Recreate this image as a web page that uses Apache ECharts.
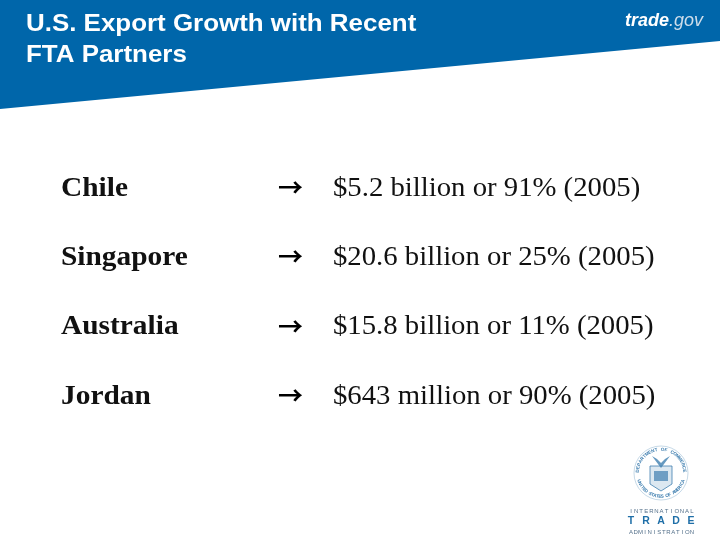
<!DOCTYPE html>
<html><head><meta charset="utf-8">
<style>html,body{margin:0;padding:0;background:#fff}#c{width:720px;height:540px}</style>
<script src="https://cdn.jsdelivr.net/npm/echarts@6/dist/echarts.min.js"></script>
</head><body><div id="c"></div>
<script>
const titleLines = ["U.S. Export Growth with Recent", "FTA Partners"];
const partners = ["Chile", "Singapore", "Australia", "Jordan"];
const growth = ["$5.2 billion or 91% (2005)", "$20.6 billion or 25% (2005)", "$15.8 billion or 11% (2005)", "$643 million or 90% (2005)"];
const sealTop = "DEPARTMENT OF COMMERCE";
const sealBottom = "UNITED STATES OF AMERICA";
const agency = ["INTERNATIONAL", "TRADE", "ADMINISTRATION"];

const BLUE = "#0066AA", LOGO = "#3F7FB0";
const g = [];
g.push({type:"polygon",shape:{points:[[0,0],[720,0],[720,41],[0,109]]},style:{fill:BLUE}});
titleLines.forEach((t,i)=>g.push({type:"text",x:26,y:24.5+i*31,scaleX:1.08,style:{text:t,fill:"#fff",font:"bold 24px 'Liberation Sans'",textVerticalAlign:"middle"}}));
g.push({type:"text",x:625,y:21,style:{text:"trade",fill:"#fff",font:"italic bold 18px 'Liberation Sans'",textVerticalAlign:"middle"}});
g.push({type:"text",x:669,y:21,style:{text:".gov",fill:"#cfdeeb",font:"italic 18px 'Liberation Sans'",textVerticalAlign:"middle"}});
partners.forEach((p,i)=>{
  const y=188.5+i*69.3;
  g.push({type:"text",x:61,y,scaleX:1.05,style:{text:p,fill:"#111",font:"bold 28px 'Liberation Serif'",textVerticalAlign:"middle"}});
  g.push({type:"text",x:278,y:y-1,style:{text:"→",fill:"#000",font:"bold 25px 'Noto Sans CJK SC'",textVerticalAlign:"middle"}});
  g.push({type:"text",x:333,y,scaleX:1.026,style:{text:growth[i],fill:"#111",font:"28px 'Liberation Serif'",textVerticalAlign:"middle"}});
});
// seal
const cx=661,cy=473;
g.push({type:"circle",shape:{cx,cy,r:27},style:{fill:"none",stroke:LOGO,lineWidth:0.6,opacity:0.5}});
function arc(text,a0,a1,flip){
  [...text].forEach((ch,i)=>{
    const a=a0+(a1-a0)*i/(text.length-1);
    const rad=a*Math.PI/180;
    g.push({type:"text",x:cx+23.5*Math.sin(rad),y:cy-23.5*Math.cos(rad),rotation:flip?-(rad-Math.PI):-rad,
      style:{text:ch,fill:LOGO,font:"bold 4.6px 'Liberation Sans'",textAlign:"center",textVerticalAlign:"middle"}});
  });
}
arc(sealTop,-85,85,false);
arc(sealBottom,250,110,true);
g.push({type:"polygon",shape:{points:[[650,466],[672,466],[672,484],[661,491],[650,484]]},style:{fill:"#dce8f1",stroke:LOGO,lineWidth:0.8}});
g.push({type:"polygon",shape:{points:[[661,468],[652,456],[657,459],[661,463],[665,459],[670,456]]},style:{fill:LOGO,opacity:0.8}});
g.push({type:"rect",shape:{x:654,y:471,width:14,height:10},style:{fill:LOGO,opacity:0.7}});
agency.forEach((t,i)=>{
  const bold=i===1;
  const y=[511,521.5,532][i];
  const span=i===1?60:61, n=t.length;
  [...t].forEach((ch,k)=>{
    g.push({type:"text",x:631+span*k/(n-1),y,style:{text:ch,fill:bold?"#1F6FA8":"#54708A",font:(bold?"bold 10.5px":"6px")+" 'Liberation Sans'",textAlign:"center",textVerticalAlign:"middle"}});
  });
});
const chart=echarts.init(document.getElementById("c"));
chart.setOption({animation:false,graphic:{elements:g}});
</script></body></html>
